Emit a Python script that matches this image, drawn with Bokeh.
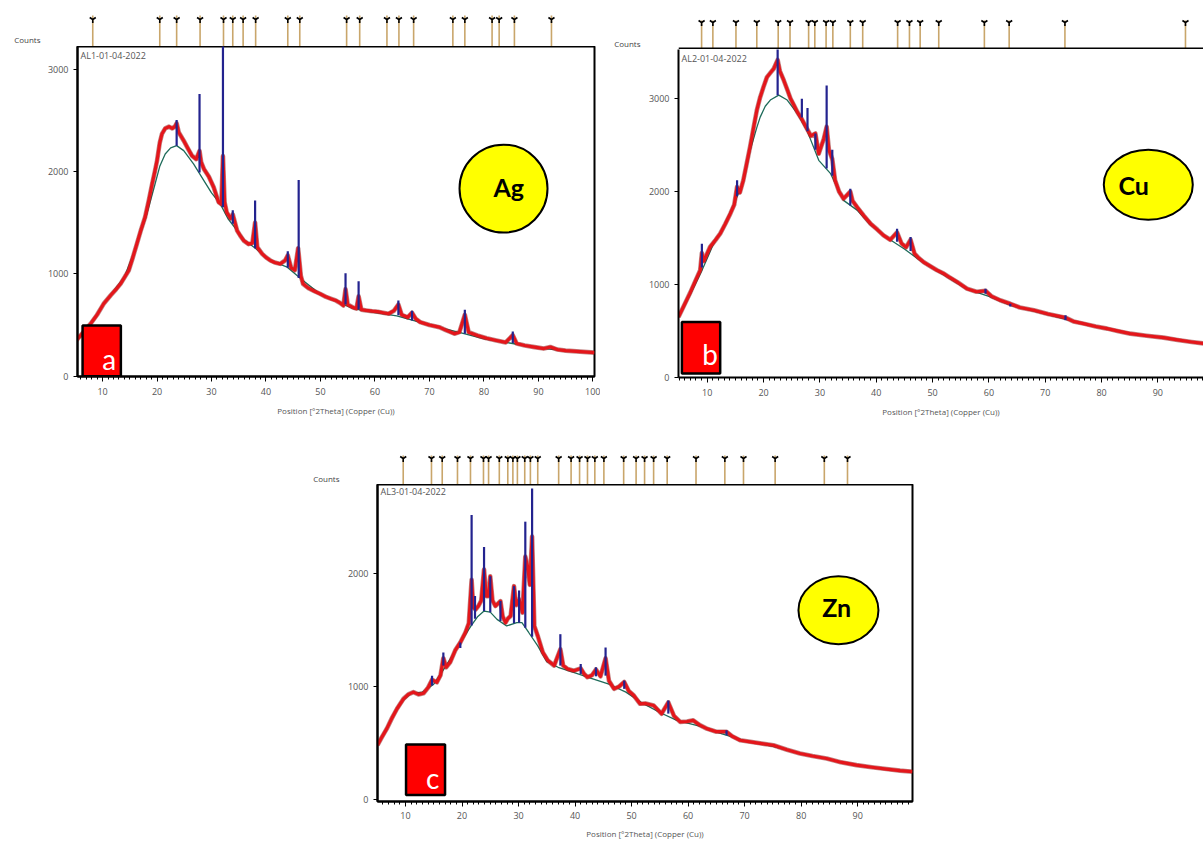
from bokeh.plotting import figure
from bokeh.models import Range1d, SingleIntervalTicker, FixedTicker, Label, BoxAnnotation, Spacer
from bokeh.layouts import row, column
from bokeh.embed import file_html
from bokeh.resources import INLINE

FONT = "Open Sans"
GREY = "#555555"

# ---------------- panel a : Ag ----------------
ag_theta = [5.2, 6.0, 7.0, 7.8, 9.0, 10.2, 11.5, 12.5, 13.3, 14.8, 15.5, 16.3, 17.0, 17.8, 18.5,
            19.1, 19.6, 20.0, 20.5, 20.9, 21.5, 22.2, 22.8, 23.3, 23.6, 24.0, 24.9, 25.6, 26.4,
            27.2, 27.8, 28.1, 28.6, 29.5, 30.4, 31.3, 31.8, 32.1, 32.4, 32.8, 33.5, 33.9, 34.7,
            35.3, 35.9, 36.8, 37.5, 38.0, 38.4, 39.3, 40.0, 40.8, 41.6, 42.6, 43.5, 44.0, 44.6,
            45.3, 45.9, 46.4, 46.8, 47.8, 48.9, 49.9, 51.0, 52.0, 52.8, 53.6, 54.2, 54.6, 55.0,
            56.0, 56.6, 57.0, 57.5, 58.4, 59.5, 60.5, 61.5, 62.5, 63.5, 64.3, 64.9, 66.0, 66.8,
            67.5, 68.3, 70.0, 71.8, 73.0, 74.6, 75.5, 76.5, 77.2, 78.8, 80.5, 82.3, 84.0, 85.3,
            86.0, 87.5, 89.3, 91.0, 92.2, 93.5, 95.0, 97.0, 99.0, 100.3]
ag_counts = [350, 400, 465, 512, 600, 707, 790, 850, 902, 1032, 1150, 1293, 1420, 1552, 1720,
             1878, 2000, 2105, 2280, 2366, 2420, 2437, 2420, 2440, 2470, 2380, 2300, 2230, 2154,
             2120, 2200, 2090, 2024, 1950, 1845, 1700, 1680, 2150, 1700, 1600, 1540, 1580, 1422,
             1370, 1325, 1290, 1300, 1500, 1260, 1195, 1160, 1130, 1110, 1097, 1130, 1180, 1060,
             1035, 1250, 980, 902, 860, 830, 805, 775, 755, 740, 715, 690, 850, 700,
             670, 660, 780, 650, 642, 635, 630, 620, 610, 640, 700, 600, 575, 620,
             560, 528, 500, 479, 450, 415, 430, 600, 430, 398, 370, 349, 330, 400,
             320, 300, 284, 270, 285, 260, 250, 242, 235, 230]
ag_bg_theta = [5.2, 8.0, 10.0, 12.0, 14.0, 16.0, 18.0, 19.5, 20.5, 21.5, 22.5, 23.6, 24.9, 26.7,
               28.6, 30.0, 31.6, 33.0, 34.7, 36.0, 37.8, 40.8, 43.9, 46.8, 50.0, 53.0, 56.0,
               60.0, 64.0, 68.0, 72.0, 76.0, 80.0, 84.0, 88.0, 92.0, 96.0, 100.3]
ag_bg_counts = [345, 520, 690, 830, 970, 1240, 1560, 1850, 2050, 2170, 2230, 2252, 2203, 2073,
                1910, 1790, 1683, 1540, 1422, 1330, 1260, 1130, 1065, 935, 800, 730, 660,
                620, 590, 530, 475, 420, 365, 330, 295, 265, 245, 228]
ag_peak_pos = [23.6, 27.8, 32.1, 33.9, 38.0, 44.0, 46.0, 54.6, 57.0, 64.3, 66.8, 76.5, 85.3]
ag_peak_base = [2250, 1990, 1650, 1490, 1250, 1060, 960, 700, 655, 595, 545, 415, 325]
ag_peak_top = [2502, 2756, 3260, 1620, 1715, 1220, 1917, 1006, 928, 740, 640, 649, 437]
ag_ref_pos = [8.2, 20.5, 23.6, 27.9, 32.2, 33.9, 35.8, 38.1, 44.0, 46.2, 54.8, 57.2, 62.2,
              64.4, 67.1, 74.3, 76.5, 81.5, 82.8, 85.6, 92.4]

# ---------------- panel b : Cu ----------------
cu_theta = [4.9, 5.8, 6.9, 8.0, 8.75, 9.05, 9.4, 10.5, 11.5, 12.3, 13.2, 14.1, 14.8, 15.3, 15.8,
            16.4, 17.0, 17.6, 18.2, 18.8, 19.4, 20.0, 20.6, 21.2, 21.8, 22.2, 22.5, 22.9, 23.6,
            24.2, 24.8, 25.4, 26.0, 26.8, 27.7, 28.4, 29.2, 29.8, 30.3, 30.7, 31.2, 31.6, 32.2,
            32.7, 33.4, 34.2, 35.4, 35.8, 36.6, 37.8, 39.0, 40.2, 41.3, 42.5, 43.7, 44.5, 45.3,
            46.1, 46.8, 47.6, 48.4, 49.6, 50.8, 52.0, 52.9, 54.5, 56.1, 57.8, 59.4, 60.5, 62.0,
            63.8, 65.5, 68.0, 70.5, 73.6, 75.0, 76.8, 79.0, 81.0, 83.0, 85.1, 88.0, 91.0, 93.5,
            96.0, 98.2]
cu_counts = [648, 760, 900, 1050, 1151, 1337, 1250, 1402, 1480, 1546, 1650, 1762, 1860, 2050, 1990,
             2121, 2300, 2480, 2680, 2875, 3018, 3130, 3234, 3280, 3324, 3380, 3420, 3300, 3198,
             3100, 3001, 2930, 2857, 2780, 2678, 2600, 2626, 2408, 2500, 2570, 2700, 2450, 2350,
             2121, 2000, 1923, 2000, 1900, 1833, 1740, 1654, 1590, 1528, 1480, 1560, 1440, 1400,
             1480, 1330, 1280, 1240, 1195, 1151, 1115, 1079, 1020, 953, 920, 930, 870, 828,
             790, 750, 720, 680, 640, 600, 576, 545, 522, 495, 468, 445, 425, 400,
             378, 361]
cu_bg_theta = [4.9, 7.0, 9.0, 11.0, 13.0, 15.0, 16.5, 17.6, 18.8, 19.4, 20.3, 21.2, 22.7, 24.2,
               26.0, 27.7, 29.8, 31.9, 34.2, 36.6, 39.0, 42.0, 45.0, 48.4, 52.0, 56.0, 60.0,
               64.0, 68.0, 72.0, 76.0, 80.0, 84.0, 88.0, 92.0, 96.0, 98.2]
cu_bg_counts = [645, 890, 1140, 1420, 1630, 1900, 2120, 2440, 2690, 2803, 2920, 2987, 3040, 2987,
                2840, 2660, 2337, 2193, 1905, 1800, 1640, 1500, 1380, 1230, 1100, 950, 870,
                770, 710, 650, 585, 535, 480, 445, 415, 378, 360]
cu_peak_pos = [9.05, 15.3, 22.5, 26.8, 27.8, 29.2, 31.2, 32.2, 35.4, 43.7, 46.1, 59.4, 63.8, 73.6]
cu_peak_base = [1180, 1950, 3040, 2800, 2650, 2450, 2250, 2170, 1850, 1460, 1360, 899, 760, 612]
cu_peak_top = [1438, 2121, 3540, 3000, 2900, 2626, 3144, 2450, 2031, 1600, 1510, 953, 790, 666]
cu_ref_pos = [9.0, 11.0, 15.1, 18.8, 22.6, 24.7, 28.0, 29.1, 31.1, 32.3, 35.4, 37.6, 43.8,
              45.9, 47.8, 51.1, 59.2, 63.6, 73.5, 94.9]

# ---------------- panel c : Zn ----------------
zn_theta = [5.05, 5.8, 6.7, 7.6, 8.5, 9.65, 10.5, 11.4, 12.3, 13.2, 14.0, 14.7, 15.55, 16.2, 16.7,
            17.2, 17.9, 18.8, 19.7, 20.6, 21.2, 21.7, 22.0, 22.4, 22.9, 23.4, 23.9, 24.3, 24.7,
            25.0, 25.4, 25.9, 26.8, 27.2, 27.7, 28.1, 28.6, 29.2, 29.6, 30.1, 30.7, 31.2, 31.6,
            32.0, 32.4, 32.8, 33.4, 34.3, 35.2, 36.3, 37.4, 37.9, 38.7, 39.8, 41.0, 41.6, 42.2,
            43.0, 43.7, 44.5, 45.4, 46.0, 46.9, 47.8, 48.7, 49.5, 50.4, 51.5, 52.5, 53.9, 55.3,
            56.5, 57.5, 58.6, 59.8, 60.9, 62.0, 63.3, 65.0, 66.8, 67.8, 69.2, 71.0, 73.0, 75.1,
            77.5, 79.8, 82.0, 84.5, 87.0, 89.8, 92.5, 95.1, 97.5, 99.7]
zn_counts = [480, 550, 627, 720, 803, 891, 930, 950, 930, 940, 990, 1060, 1037, 1100, 1250,
             1170, 1214, 1320, 1390, 1478, 1560, 1945, 1700, 1682, 1712, 1760, 2035, 1800, 1800,
             1975, 1760, 1712, 1756, 1620, 1565, 1600, 1624, 1888, 1720, 1771, 1653, 2150, 2063,
             1900, 2327, 1536, 1448, 1302, 1229, 1185, 1330, 1185, 1155, 1140, 1160, 1111, 1082,
             1100, 1150, 1090, 1250, 1050, 979, 1000, 1040, 960, 920, 847, 850, 832, 759,
             860, 740, 686, 690, 700, 660, 627, 600, 600, 560, 524, 510, 495, 480,
             440, 407, 385, 363, 330, 304, 285, 269, 255, 246]
zn_bg_theta = [5.05, 7.0, 9.0, 11.0, 13.0, 15.0, 17.0, 19.0, 20.5, 21.6, 22.8, 23.9, 25.0, 26.2,
               27.9, 29.7, 30.6, 31.8, 33.4, 35.0, 37.0, 40.0, 43.0, 46.0, 49.0, 52.0, 55.0,
               58.0, 62.0, 66.0, 70.0, 75.0, 80.0, 85.0, 90.0, 95.0, 99.7]
zn_bg_counts = [478, 660, 850, 940, 950, 1020, 1170, 1330, 1450, 1536, 1620, 1668, 1658, 1594,
                1536, 1565, 1565, 1478, 1360, 1220, 1170, 1120, 1070, 1020, 950, 850, 770,
                700, 650, 580, 520, 470, 405, 355, 300, 268, 244]
zn_peak_pos = [14.7, 16.7, 19.7, 21.7, 22.3, 23.9, 25.0, 26.8, 29.2, 30.1, 31.2, 32.4, 37.4,
               41.0, 43.7, 45.4, 48.7, 56.5, 66.8]
zn_peak_base = [1008, 1185, 1340, 1540, 1600, 1668, 1658, 1580, 1560, 1565, 1520, 1440, 1185,
                1111, 1090, 1096, 979, 760, 568]
zn_peak_top = [1096, 1302, 1390, 2518, 1800, 2234, 1975, 1756, 1888, 1850, 2459, 2753, 1463,
               1199, 1170, 1345, 1052, 876, 612]
zn_ref_pos = [9.6, 14.6, 16.5, 19.2, 21.5, 23.8, 24.7, 26.6, 28.1, 29.0, 29.8, 31.1, 32.1, 33.4,
              37.1, 39.3, 40.8, 42.2, 43.5, 45.1, 48.6, 50.8, 52.3, 53.9, 56.3, 61.4, 66.5,
              69.8, 75.4, 84.1, 88.2]

panels = [
    dict(theta=ag_theta, counts=ag_counts, bg_t=ag_bg_theta, bg_c=ag_bg_counts,
         pk=ag_peak_pos, pb=ag_peak_base, pt=ag_peak_top, refs=ag_ref_pos,
         title="AL1-01-04-2022", tag="a", elem="Ag", yticks=[0, 1000, 2000, 3000],
         w=600, bl=77, br=6, sh=46, mh=374, bb=44, xr=(5.4, 100.3), yr=(-3, 3220),
         outline=True, csd=37, cy=7, stick=31, gy=27, box=(6.33, 13.36, 0, 496),
         tagpos=(11.2, 164), ell=(83.6, 1832, 88, 88), elpos=(84.55, 1845),
         tick_sd=6, lab_sd=7),
    dict(theta=cu_theta, counts=cu_counts, bg_t=cu_bg_theta, bg_c=cu_bg_counts,
         pk=cu_peak_pos, pb=cu_peak_base, pt=cu_peak_top, refs=cu_ref_pos,
         title="AL2-01-04-2022", tag="b", elem="Cu", yticks=[0, 1000, 2000, 3000],
         w=603, bl=78, br=0, sh=49, mh=371, bb=43, xr=(4.9, 98.1), yr=(-5, 3532),
         outline=False, csd=38, cy=6, stick=29, gy=27, box=(5.5, 12.3, 38, 594),
         tagpos=(10.5, 253), ell=(88.3, 2074, 89, 70), elpos=(85.7, 2074),
         tick_sd=6, lab_sd=7),
    dict(theta=zn_theta, counts=zn_counts, bg_t=zn_bg_theta, bg_c=zn_bg_counts,
         pk=zn_peak_pos, pb=zn_peak_base, pt=zn_peak_top, refs=zn_ref_pos,
         title="AL3-01-04-2022", tag="c", elem="Zn", yticks=[0, 1000, 2000],
         w=617, bl=77, br=5, sh=64, mh=357, bb=38, xr=(5.05, 99.7), yr=(-18, 2788),
         outline=True, csd=38, cy=6, stick=29, gy=26, box=(10.1, 17.0, 40, 486),
         tagpos=(14.8, 187), ell=(86.6, 1675, 80, 68), elpos=(86.3, 1703),
         tick_sd=5, lab_sd=6),
]


def build(cfg):
    x0, x1 = cfg["xr"]
    xr = Range1d(x0, x1)
    p = figure(width=cfg["w"], height=cfg["mh"], x_range=xr, y_range=Range1d(*cfg["yr"]),
               output_backend="svg", toolbar_location=None,
               min_border_left=cfg["bl"], min_border_right=cfg["br"],
               min_border_top=0, min_border_bottom=cfg["bb"],
               background_fill_color="white", border_fill_color="white")
    p.xgrid.visible = False
    p.ygrid.visible = False
    if cfg["outline"]:
        p.outline_line_color = "black"
        p.outline_line_width = 2
    else:
        p.outline_line_color = None

    p.xaxis.ticker = SingleIntervalTicker(interval=10, num_minor_ticks=10)
    p.yaxis.ticker = FixedTicker(ticks=cfg["yticks"], minor_ticks=[])
    for ax in (p.xaxis[0], p.yaxis[0]):
        ax.axis_line_color = "black"
        ax.axis_line_width = 2
        ax.major_tick_line_color = "black"
        ax.minor_tick_line_color = "black"
        ax.major_tick_in = 0
        ax.minor_tick_in = 0
        ax.major_label_text_font = FONT
        ax.major_label_text_color = GREY
        ax.major_label_text_font_size = "9px"
    p.xaxis.major_tick_out = 5
    p.xaxis.minor_tick_out = 3
    p.yaxis.major_tick_out = 4
    p.yaxis.minor_tick_out = 0
    p.yaxis.major_label_standoff = 5
    p.xaxis.major_label_standoff = cfg["tick_sd"]
    p.xaxis.axis_label = "Position [°2Theta] (Copper (Cu))"
    p.xaxis.axis_label_text_font = FONT
    p.xaxis.axis_label_text_font_style = "normal"
    p.xaxis.axis_label_text_color = GREY
    p.xaxis.axis_label_text_font_size = "8px"
    p.xaxis.axis_label_standoff = cfg["lab_sd"]

    # background, observed (dark fringe + red), calculated peaks
    p.line(cfg["bg_t"], cfg["bg_c"], line_color="#1e6b5a", line_width=1.3)
    p.line(cfg["theta"], cfg["counts"], line_color="#8f1d1d", line_width=4.6,
           line_alpha=0.55, line_join="round")
    p.line(cfg["theta"], cfg["counts"], line_color="#e4161b", line_width=3.2, line_join="round")
    p.segment(x0=cfg["pk"], y0=cfg["pb"], x1=cfg["pk"], y1=cfg["pt"],
              line_color="#23238f", line_width=2.2)

    fh = cfg["mh"] - cfg["bb"]
    p.add_layout(Label(x=3, y=fh - 2, x_units="screen", y_units="screen", text=cfg["title"],
                       text_font=FONT, text_font_size="9px", text_color=GREY,
                       text_baseline="top"))

    l, r, b, t = cfg["box"]
    p.add_layout(BoxAnnotation(left=l, right=r, bottom=b, top=t, fill_color="#ff0000",
                               fill_alpha=1.0, line_color="black", line_width=2.5,
                               line_alpha=1.0))
    tx, ty = cfg["tagpos"]
    p.add_layout(Label(x=tx, y=ty, text=cfg["tag"], text_font="Lato", text_font_size="28px",
                       text_color="white", text_align="center", text_baseline="alphabetic"))

    ex, ey, ew, eh = cfg["ell"]
    p.ellipse(x=[ex], y=[ey], width=[ew], height=[eh], width_units="screen",
              height_units="screen", fill_color="#ffff00", line_color="black", line_width=2)
    lx, ly = cfg["elpos"]
    p.add_layout(Label(x=lx, y=ly, text=cfg["elem"], text_font="Lato", text_font_size="25px",
                       text_font_style="bold", text_color="black", text_align="center",
                       text_baseline="alphabetic"))

    # reference-peak strip above the frame (shares the x range)
    s = figure(width=cfg["w"], height=cfg["sh"], x_range=xr, y_range=Range1d(0, cfg["sh"]),
               x_axis_type=None, output_backend="svg", toolbar_location=None,
               min_border_left=cfg["bl"], min_border_right=cfg["br"], min_border_top=0,
               min_border_bottom=0, outline_line_color=None,
               background_fill_color="white", border_fill_color="white")
    s.xgrid.visible = False
    s.ygrid.visible = False
    # "Counts" caption drawn as the single tick label of the strip's y axis
    ya = s.yaxis[0]
    ya.ticker = FixedTicker(ticks=[cfg["cy"]], minor_ticks=[])
    ya.major_label_overrides = {cfg["cy"]: "Counts"}
    ya.axis_line_color = None
    ya.major_tick_line_color = None
    ya.minor_tick_line_color = None
    ya.major_tick_out = 0
    ya.major_tick_in = 0
    ya.major_label_standoff = cfg["csd"]
    ya.major_label_text_font = FONT
    ya.major_label_text_font_size = "8px"
    ya.major_label_text_color = "#444444"

    refs = cfg["refs"]
    s.segment(x0=refs, y0=[0] * len(refs), x1=refs, y1=[cfg["stick"]] * len(refs),
              line_color="#c9a66b", line_width=1.6)
    s.scatter(x=refs, y=[cfg["gy"]] * len(refs), marker="y", size=7,
              line_color="black", line_width=1.6)
    if not cfg["outline"]:
        s.segment(x0=[x0], y0=[0], x1=[x1], y1=[0], line_color="black", line_width=4)
    return column(s, p, spacing=0)


col_a = build(panels[0])
col_b = build(panels[1])
col_c = build(panels[2])

top_row = row(col_a, col_b, spacing=0)
bottom_row = row(Spacer(width=300, height=421), col_c, spacing=0)
page = column(top_row, bottom_row, spacing=0)

open("out.html", "w").write(file_html(page, INLINE))
